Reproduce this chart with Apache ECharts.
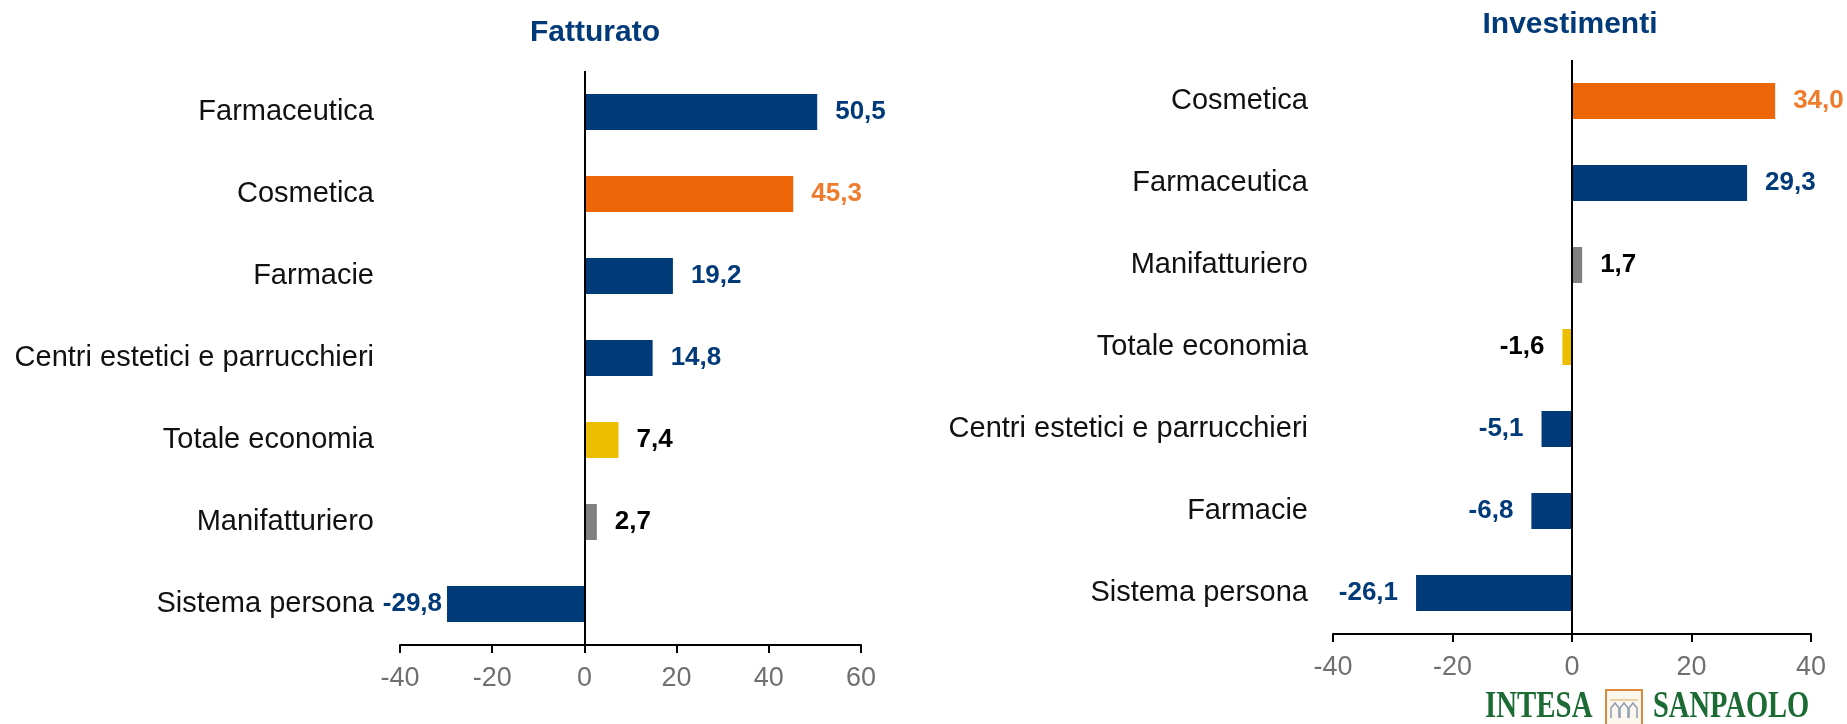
<!DOCTYPE html>
<html lang="it">
<head>
<meta charset="UTF-8">
<script src="https://cdn.jsdelivr.net/npm/echarts@6/dist/echarts.min.js"></script>
<style>
  html, body { margin: 0; padding: 0; background: #fff; }
  #chart { width: 1847px; height: 724px; }
</style>
</head>
<body>
<div id="chart"></div>
<script>
  // dati
  var fattCat = ['Farmaceutica', 'Cosmetica', 'Farmacie', 'Centri estetici e parrucchieri', 'Totale economia', 'Manifatturiero', 'Sistema persona'];
  var fattVal = [50.5, 45.3, 19.2, 14.8, 7.4, 2.7, -29.8];
  var invCat = ['Cosmetica', 'Farmaceutica', 'Manifatturiero', 'Totale economia', 'Centri estetici e parrucchieri', 'Farmacie', 'Sistema persona'];
  var invVal = [34.0, 29.3, 1.7, -1.6, -5.1, -6.8, -26.1];
  var fattTicks = [-40, 60, 20];
  var invTicks = [-40, 40, 20];

  var BLUE = '#003a78', ORANGE = '#ec6608', YELLOW = '#edbe00', GRAY = '#808080';
  var FONT = 'Liberation Sans, Arial, sans-serif';

  function barColor(name) {
    if (name == 'Cosmetica') return ORANGE;
    if (name == 'Totale economia') return YELLOW;
    if (name == 'Manifatturiero') return GRAY;
    return BLUE;
  }
  function labelColor(name) {
    if (name == 'Cosmetica') return '#ef7b2c';
    if (name == 'Totale economia' || name == 'Manifatturiero') return '#000';
    return BLUE;
  }

  function buildData(cats, vals, negGap) {
    return vals.map(function (v, i) {
      return {
        value: v,
        itemStyle: { color: barColor(cats[i]) },
        label: {
          position: v < 0 ? 'left' : 'right',
          distance: v < 0 ? negGap : 18,
          color: labelColor(cats[i])
        }
      };
    });
  }

  function xAxisOf(gridIndex, ticks) {
    return {
      type: 'value', gridIndex: gridIndex,
      min: ticks[0], max: ticks[1], interval: ticks[2],
      splitLine: { show: false },
      axisLine: { show: true, lineStyle: { color: '#000', width: 2 } },
      axisTick: { show: true, length: 8, lineStyle: { color: '#000', width: 2 } },
      axisLabel: { color: '#707070', fontSize: 27, fontFamily: FONT, margin: 20 }
    };
  }
  function yAxisOf(gridIndex, cats, margin) {
    return {
      type: 'category', gridIndex: gridIndex, data: cats, inverse: true,
      axisLine: { show: false, onZero: false },
      axisTick: { show: false },
      axisLabel: { color: '#111', fontSize: 29, fontFamily: FONT, margin: margin }
    };
  }
  function seriesOf(idx, cats, vals, negGap) {
    return {
      type: 'bar', xAxisIndex: idx, yAxisIndex: idx,
      data: buildData(cats, vals, negGap),
      barWidth: 36,
      label: {
        show: true, fontSize: 26, fontWeight: 'bold', fontFamily: FONT,
        formatter: function (p) { return p.value.toFixed(1).replace('.', ','); }
      },
      markLine: {
        silent: true, symbol: 'none', label: { show: false },
        lineStyle: { color: '#000', width: 2, type: 'solid' },
        data: [{ xAxis: 0 }]
      }
    };
  }

  // logo in basso a destra
  var logoFont = 'bold 38px "Liberation Serif", serif';
  var arch = function (x) {
    return { type: 'polyline',
      shape: { points: [[x, 718], [x, 708], [x + 4, 703], [x + 8, 708], [x + 8, 718]] },
      style: { fill: 'none', stroke: '#8a9bb0', lineWidth: 1.5 } };
  };

  var chart = echarts.init(document.getElementById('chart'));
  var option = {
    animation: false,
    title: [
      { text: 'Fatturato', left: 590, top: 13, textAlign: 'center',
        textStyle: { color: BLUE, fontSize: 30, fontWeight: 'bold', fontFamily: FONT } },
      { text: 'Investimenti', left: 1565, top: 5, textAlign: 'center',
        textStyle: { color: BLUE, fontSize: 30, fontWeight: 'bold', fontFamily: FONT } }
    ],
    grid: [
      { left: 400, width: 461, top: 71, height: 574 },
      { left: 1333, width: 478, top: 60, height: 574 }
    ],
    xAxis: [xAxisOf(0, fattTicks), xAxisOf(1, invTicks)],
    yAxis: [yAxisOf(0, fattCat, 26), yAxisOf(1, invCat, 25)],
    series: [seriesOf(0, fattCat, fattVal, 5), seriesOf(1, invCat, invVal, 18)],
    graphic: [
      { type: 'text', x: 1485, y: 688, scaleX: 0.76,
        style: { text: 'INTESA', fill: '#1c6b34', font: logoFont } },
      { type: 'rect', shape: { x: 1606, y: 690, width: 36, height: 40 },
        style: { fill: '#fdf6ee', stroke: '#d98a3a', lineWidth: 2 } },
      { type: 'line', shape: { x1: 1610, y1: 700, x2: 1638, y2: 700 },
        style: { stroke: '#e2c58a', lineWidth: 1.5 } },
      arch(1611), arch(1620), arch(1629),
      { type: 'text', x: 1653, y: 688, scaleX: 0.75,
        style: { text: 'SANPAOLO', fill: '#1c6b34', font: logoFont } }
    ]
  };
  chart.setOption(option);
</script>
</body>
</html>
